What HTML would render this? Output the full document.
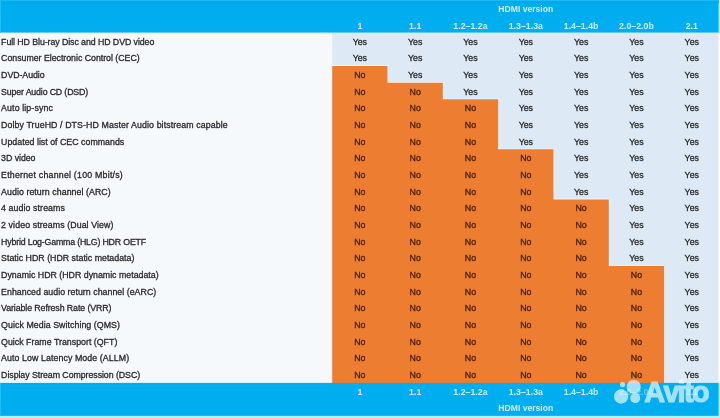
<!DOCTYPE html>
<html lang="en">
<head>
<meta charset="utf-8">
<title>HDMI version feature table</title>
<style>
html,body{margin:0;padding:0;background:#fff;}
body{width:720px;height:418px;overflow:hidden;position:relative;font-family:"Liberation Sans",sans-serif;}
#bg{position:absolute;left:0;top:0;width:720px;height:418px;display:block;}
.t{position:absolute;white-space:nowrap;line-height:12px;height:12px;font-size:8.8px;color:#2a2a2a;-webkit-text-stroke:0.3px #2a2a2a;}
.l{left:1.1px;}
.c{text-align:center;width:55.320px;}
.n{color:#4a2208;-webkit-text-stroke-color:#4a2208;}
.h{color:#c8edfb;font-weight:bold;font-size:8.6px;-webkit-text-stroke:0;}
.c.h{font-size:8.8px;}
.wm{position:absolute;left:0;top:0;width:720px;height:418px;}

</style>
</head>
<body>
<svg id="bg" width="720" height="418" viewBox="0 0 720 418">
<rect x="0" y="0" width="720" height="418" fill="#fff"/>
<rect x="0" y="415.9" width="720" height="2.10" fill="#aef3ff"/>
<rect x="0" y="32.6" width="332.2" height="350.28" fill="#f6f9fb"/>
<rect x="332.2" y="32.6" width="386.30" height="350.28" fill="#ddeaf6"/>
<path fill="#ed7d31" stroke="#f4f8fc" stroke-width="1.2" paint-order="stroke" d="M332.20 382.88 L332.20 65.96 L387.52 65.96 L387.52 82.64 L442.84 82.64 L442.84 99.32 L498.16 99.32 L498.16 149.36 L553.48 149.36 L553.48 199.40 L608.80 199.40 L608.80 266.12 L664.12 266.12 L664.12 382.88 Z"/>
<rect x="0" y="0" width="718.8" height="32.6" fill="#00aeef"/>
<rect x="0" y="382.88" width="718.8" height="33.02" fill="#00aeef"/>
<rect x="718.8" y="0" width="1.2" height="32.6" fill="#aef3ff"/>
<rect x="718.8" y="382.88" width="1.2" height="35.12" fill="#aef3ff"/>
<rect x="0" y="0" width="718.8" height="1" fill="#1cbaf6"/>
<rect x="0" y="1" width="718.8" height="2.6" fill="#03aae8"/>
<rect x="0" y="0" width="1" height="32.6" fill="#22bbf3"/>
<rect x="0" y="382.88" width="1" height="33.02" fill="#22bbf3"/>
</svg>
<div class="t h" style="left:332.2px;width:387.24px;text-align:center;top:3px">HDMI version</div>
<div class="t c h" style="left:332.20px;top:20px">1</div>
<div class="t c h" style="left:387.52px;top:20px">1.1</div>
<div class="t c h" style="left:442.84px;top:20px">1.2–1.2a</div>
<div class="t c h" style="left:498.16px;top:20px">1.3–1.3a</div>
<div class="t c h" style="left:553.48px;top:20px">1.4–1.4b</div>
<div class="t c h" style="left:608.80px;top:20px">2.0–2.0b</div>
<div class="t c h" style="left:664.12px;top:20px">2.1</div>
<div class="t l" style="top:36.00px;letter-spacing:-0.076px">Full HD Blu-ray Disc and HD DVD video</div>
<div class="t c" style="left:332.20px;top:36px">Yes</div>
<div class="t c" style="left:387.52px;top:36px">Yes</div>
<div class="t c" style="left:442.84px;top:36px">Yes</div>
<div class="t c" style="left:498.16px;top:36px">Yes</div>
<div class="t c" style="left:553.48px;top:36px">Yes</div>
<div class="t c" style="left:608.80px;top:36px">Yes</div>
<div class="t c" style="left:664.12px;top:36px">Yes</div>
<div class="t l" style="top:52.00px;letter-spacing:-0.024px">Consumer Electronic Control (CEC)</div>
<div class="t c" style="left:332.20px;top:52px">Yes</div>
<div class="t c" style="left:387.52px;top:52px">Yes</div>
<div class="t c" style="left:442.84px;top:52px">Yes</div>
<div class="t c" style="left:498.16px;top:52px">Yes</div>
<div class="t c" style="left:553.48px;top:52px">Yes</div>
<div class="t c" style="left:608.80px;top:52px">Yes</div>
<div class="t c" style="left:664.12px;top:52px">Yes</div>
<div class="t l" style="top:69.00px;letter-spacing:-0.056px">DVD-Audio</div>
<div class="t c n" style="left:332.20px;top:69px">No</div>
<div class="t c" style="left:387.52px;top:69px">Yes</div>
<div class="t c" style="left:442.84px;top:69px">Yes</div>
<div class="t c" style="left:498.16px;top:69px">Yes</div>
<div class="t c" style="left:553.48px;top:69px">Yes</div>
<div class="t c" style="left:608.80px;top:69px">Yes</div>
<div class="t c" style="left:664.12px;top:69px">Yes</div>
<div class="t l" style="top:86.00px;letter-spacing:-0.150px">Super Audio CD (DSD)</div>
<div class="t c n" style="left:332.20px;top:86px">No</div>
<div class="t c n" style="left:387.52px;top:86px">No</div>
<div class="t c" style="left:442.84px;top:86px">Yes</div>
<div class="t c" style="left:498.16px;top:86px">Yes</div>
<div class="t c" style="left:553.48px;top:86px">Yes</div>
<div class="t c" style="left:608.80px;top:86px">Yes</div>
<div class="t c" style="left:664.12px;top:86px">Yes</div>
<div class="t l" style="top:102.00px;letter-spacing:0.115px">Auto lip-sync</div>
<div class="t c n" style="left:332.20px;top:102px">No</div>
<div class="t c n" style="left:387.52px;top:102px">No</div>
<div class="t c n" style="left:442.84px;top:102px">No</div>
<div class="t c" style="left:498.16px;top:102px">Yes</div>
<div class="t c" style="left:553.48px;top:102px">Yes</div>
<div class="t c" style="left:608.80px;top:102px">Yes</div>
<div class="t c" style="left:664.12px;top:102px">Yes</div>
<div class="t l" style="top:119.00px;letter-spacing:0.100px">Dolby TrueHD / DTS-HD Master Audio bitstream capable</div>
<div class="t c n" style="left:332.20px;top:119px">No</div>
<div class="t c n" style="left:387.52px;top:119px">No</div>
<div class="t c n" style="left:442.84px;top:119px">No</div>
<div class="t c" style="left:498.16px;top:119px">Yes</div>
<div class="t c" style="left:553.48px;top:119px">Yes</div>
<div class="t c" style="left:608.80px;top:119px">Yes</div>
<div class="t c" style="left:664.12px;top:119px">Yes</div>
<div class="t l" style="top:136.00px;letter-spacing:0.014px">Updated list of CEC commands</div>
<div class="t c n" style="left:332.20px;top:136px">No</div>
<div class="t c n" style="left:387.52px;top:136px">No</div>
<div class="t c n" style="left:442.84px;top:136px">No</div>
<div class="t c" style="left:498.16px;top:136px">Yes</div>
<div class="t c" style="left:553.48px;top:136px">Yes</div>
<div class="t c" style="left:608.80px;top:136px">Yes</div>
<div class="t c" style="left:664.12px;top:136px">Yes</div>
<div class="t l" style="top:152.00px;letter-spacing:-0.050px">3D video</div>
<div class="t c n" style="left:332.20px;top:152px">No</div>
<div class="t c n" style="left:387.52px;top:152px">No</div>
<div class="t c n" style="left:442.84px;top:152px">No</div>
<div class="t c n" style="left:498.16px;top:152px">No</div>
<div class="t c" style="left:553.48px;top:152px">Yes</div>
<div class="t c" style="left:608.80px;top:152px">Yes</div>
<div class="t c" style="left:664.12px;top:152px">Yes</div>
<div class="t l" style="top:169.00px;letter-spacing:0.224px">Ethernet channel (100 Mbit/s)</div>
<div class="t c n" style="left:332.20px;top:169px">No</div>
<div class="t c n" style="left:387.52px;top:169px">No</div>
<div class="t c n" style="left:442.84px;top:169px">No</div>
<div class="t c n" style="left:498.16px;top:169px">No</div>
<div class="t c" style="left:553.48px;top:169px">Yes</div>
<div class="t c" style="left:608.80px;top:169px">Yes</div>
<div class="t c" style="left:664.12px;top:169px">Yes</div>
<div class="t l" style="top:186.00px;letter-spacing:0.062px">Audio return channel (ARC)</div>
<div class="t c n" style="left:332.20px;top:186px">No</div>
<div class="t c n" style="left:387.52px;top:186px">No</div>
<div class="t c n" style="left:442.84px;top:186px">No</div>
<div class="t c n" style="left:498.16px;top:186px">No</div>
<div class="t c" style="left:553.48px;top:186px">Yes</div>
<div class="t c" style="left:608.80px;top:186px">Yes</div>
<div class="t c" style="left:664.12px;top:186px">Yes</div>
<div class="t l" style="top:202.00px;letter-spacing:0.087px">4 audio streams</div>
<div class="t c n" style="left:332.20px;top:202px">No</div>
<div class="t c n" style="left:387.52px;top:202px">No</div>
<div class="t c n" style="left:442.84px;top:202px">No</div>
<div class="t c n" style="left:498.16px;top:202px">No</div>
<div class="t c n" style="left:553.48px;top:202px">No</div>
<div class="t c" style="left:608.80px;top:202px">Yes</div>
<div class="t c" style="left:664.12px;top:202px">Yes</div>
<div class="t l" style="top:219.00px;letter-spacing:0.096px">2 video streams (Dual View)</div>
<div class="t c n" style="left:332.20px;top:219px">No</div>
<div class="t c n" style="left:387.52px;top:219px">No</div>
<div class="t c n" style="left:442.84px;top:219px">No</div>
<div class="t c n" style="left:498.16px;top:219px">No</div>
<div class="t c n" style="left:553.48px;top:219px">No</div>
<div class="t c" style="left:608.80px;top:219px">Yes</div>
<div class="t c" style="left:664.12px;top:219px">Yes</div>
<div class="t l" style="top:236.00px;letter-spacing:-0.184px">Hybrid Log-Gamma (HLG) HDR OETF</div>
<div class="t c n" style="left:332.20px;top:236px">No</div>
<div class="t c n" style="left:387.52px;top:236px">No</div>
<div class="t c n" style="left:442.84px;top:236px">No</div>
<div class="t c n" style="left:498.16px;top:236px">No</div>
<div class="t c n" style="left:553.48px;top:236px">No</div>
<div class="t c" style="left:608.80px;top:236px">Yes</div>
<div class="t c" style="left:664.12px;top:236px">Yes</div>
<div class="t l" style="top:252.00px;letter-spacing:0.009px">Static HDR (HDR static metadata)</div>
<div class="t c n" style="left:332.20px;top:252px">No</div>
<div class="t c n" style="left:387.52px;top:252px">No</div>
<div class="t c n" style="left:442.84px;top:252px">No</div>
<div class="t c n" style="left:498.16px;top:252px">No</div>
<div class="t c n" style="left:553.48px;top:252px">No</div>
<div class="t c" style="left:608.80px;top:252px">Yes</div>
<div class="t c" style="left:664.12px;top:252px">Yes</div>
<div class="t l" style="top:269.00px;letter-spacing:0.003px">Dynamic HDR (HDR dynamic metadata)</div>
<div class="t c n" style="left:332.20px;top:269px">No</div>
<div class="t c n" style="left:387.52px;top:269px">No</div>
<div class="t c n" style="left:442.84px;top:269px">No</div>
<div class="t c n" style="left:498.16px;top:269px">No</div>
<div class="t c n" style="left:553.48px;top:269px">No</div>
<div class="t c n" style="left:608.80px;top:269px">No</div>
<div class="t c" style="left:664.12px;top:269px">Yes</div>
<div class="t l" style="top:286.00px;letter-spacing:0.031px">Enhanced audio return channel (eARC)</div>
<div class="t c n" style="left:332.20px;top:286px">No</div>
<div class="t c n" style="left:387.52px;top:286px">No</div>
<div class="t c n" style="left:442.84px;top:286px">No</div>
<div class="t c n" style="left:498.16px;top:286px">No</div>
<div class="t c n" style="left:553.48px;top:286px">No</div>
<div class="t c n" style="left:608.80px;top:286px">No</div>
<div class="t c" style="left:664.12px;top:286px">Yes</div>
<div class="t l" style="top:302.00px;letter-spacing:-0.093px">Variable Refresh Rate (VRR)</div>
<div class="t c n" style="left:332.20px;top:302px">No</div>
<div class="t c n" style="left:387.52px;top:302px">No</div>
<div class="t c n" style="left:442.84px;top:302px">No</div>
<div class="t c n" style="left:498.16px;top:302px">No</div>
<div class="t c n" style="left:553.48px;top:302px">No</div>
<div class="t c n" style="left:608.80px;top:302px">No</div>
<div class="t c" style="left:664.12px;top:302px">Yes</div>
<div class="t l" style="top:319.00px;letter-spacing:0.059px">Quick Media Switching (QMS)</div>
<div class="t c n" style="left:332.20px;top:319px">No</div>
<div class="t c n" style="left:387.52px;top:319px">No</div>
<div class="t c n" style="left:442.84px;top:319px">No</div>
<div class="t c n" style="left:498.16px;top:319px">No</div>
<div class="t c n" style="left:553.48px;top:319px">No</div>
<div class="t c n" style="left:608.80px;top:319px">No</div>
<div class="t c" style="left:664.12px;top:319px">Yes</div>
<div class="t l" style="top:336.00px;letter-spacing:0.015px">Quick Frame Transport (QFT)</div>
<div class="t c n" style="left:332.20px;top:336px">No</div>
<div class="t c n" style="left:387.52px;top:336px">No</div>
<div class="t c n" style="left:442.84px;top:336px">No</div>
<div class="t c n" style="left:498.16px;top:336px">No</div>
<div class="t c n" style="left:553.48px;top:336px">No</div>
<div class="t c n" style="left:608.80px;top:336px">No</div>
<div class="t c" style="left:664.12px;top:336px">Yes</div>
<div class="t l" style="top:352.00px;letter-spacing:0.086px">Auto Low Latency Mode (ALLM)</div>
<div class="t c n" style="left:332.20px;top:352px">No</div>
<div class="t c n" style="left:387.52px;top:352px">No</div>
<div class="t c n" style="left:442.84px;top:352px">No</div>
<div class="t c n" style="left:498.16px;top:352px">No</div>
<div class="t c n" style="left:553.48px;top:352px">No</div>
<div class="t c n" style="left:608.80px;top:352px">No</div>
<div class="t c" style="left:664.12px;top:352px">Yes</div>
<div class="t l" style="top:369.00px;letter-spacing:-0.056px">Display Stream Compression (DSC)</div>
<div class="t c n" style="left:332.20px;top:369px">No</div>
<div class="t c n" style="left:387.52px;top:369px">No</div>
<div class="t c n" style="left:442.84px;top:369px">No</div>
<div class="t c n" style="left:498.16px;top:369px">No</div>
<div class="t c n" style="left:553.48px;top:369px">No</div>
<div class="t c n" style="left:608.80px;top:369px">No</div>
<div class="t c" style="left:664.12px;top:369px">Yes</div>
<div class="t c h" style="left:332.20px;top:386px">1</div>
<div class="t c h" style="left:387.52px;top:386px">1.1</div>
<div class="t c h" style="left:442.84px;top:386px">1.2–1.2a</div>
<div class="t c h" style="left:498.16px;top:386px">1.3–1.3a</div>
<div class="t c h" style="left:553.48px;top:386px">1.4–1.4b</div>
<div class="t c h" style="left:608.80px;top:386px;opacity:.45">2.0–2.0b</div>
<div class="t c h" style="left:664.12px;top:386px;opacity:.45">2.1</div>
<div class="t h" style="left:332.2px;width:387.24px;text-align:center;top:402px">HDMI version</div>
<svg class="wm" width="720" height="418" viewBox="0 0 720 418">
<g fill="#fff" opacity="0.64">
<circle cx="622.6" cy="384.6" r="2.6"/>
<circle cx="633.7" cy="386.8" r="7.1"/>
<circle cx="621.1" cy="396.5" r="7.2"/>
<circle cx="635.2" cy="398.1" r="5"/>
<text x="644.2 663.6 677.6 684 692" y="401.8" font-family="Liberation Sans, sans-serif" font-weight="bold" font-size="28.8" stroke="#fff" stroke-width="1.2" stroke-linejoin="round">Avito</text>
</g>
</svg>
</body>
</html>
